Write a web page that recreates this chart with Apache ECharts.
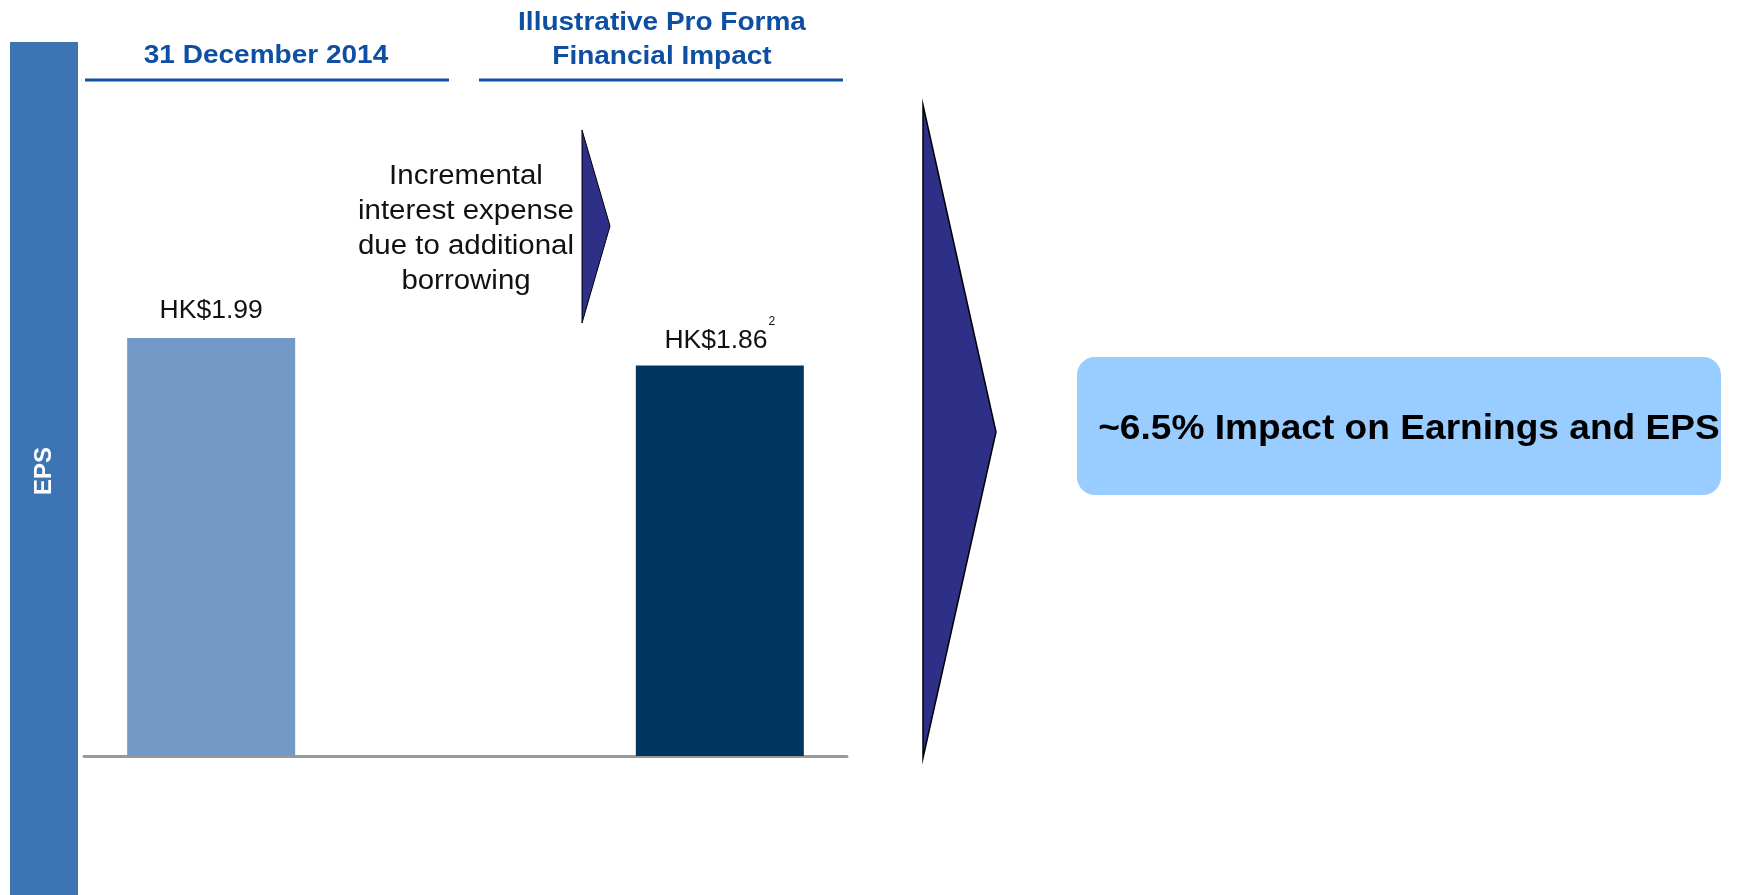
<!DOCTYPE html>
<html>
<head>
<meta charset="utf-8">
<script src="https://cdn.jsdelivr.net/npm/echarts@6/dist/echarts.min.js"></script>
<style>
  html, body { margin: 0; padding: 0; background: #fff; }
  #main { width: 1738px; height: 895px; }
</style>
</head>
<body>
<div id="main"></div>
<script>
// data
var categories = ['31 December 2014', 'Incremental interest', 'Illustrative Pro Forma'];
var epsValues = [1.99, null, 1.86];
var epsLabels = ['HK$1.99', '', 'HK$1.86'];
var footnotes = ['', '', '2'];
var barColors = ['#7399C6', '#FFFFFF', '#00365F'];
var headers = ['31 December 2014', 'Illustrative Pro Forma\nFinancial Impact'];
var note = 'Incremental\ninterest expense\ndue to additional\nborrowing';
var impactText = '~6.5% Impact on Earnings and EPS';

var font = '"Liberation Sans", Arial, sans-serif';
var headBlue = '#0E4FA3';

var myChart = echarts.init(document.getElementById('main'));

myChart.setOption({
  animation: false,
  grid: { left: 84, right: 891, top: 126, bottom: 139 },
  xAxis: {
    type: 'category',
    data: categories,
    axisLine: { lineStyle: { color: '#999999', width: 3 } },
    axisTick: { show: false },
    axisLabel: { show: false }
  },
  yAxis: {
    type: 'value',
    min: 0,
    max: 3,
    show: false,
    splitLine: { show: false }
  },
  series: [{
    type: 'bar',
    barWidth: 168,
    data: epsValues.map(function (v, i) {
      var item = { value: v, itemStyle: { color: barColors[i] } };
      // footnote marker makes the label taller, so pull it back down
      if (footnotes[i]) item.label = { distance: 0 };
      return item;
    }),
    label: {
      show: true,
      position: 'top',
      distance: 14,
      formatter: function (p) {
        var i = p.dataIndex;
        return '{v|' + epsLabels[i] + '}' + (footnotes[i] ? '{s|' + footnotes[i] + '}' : '');
      },
      rich: {
        v: { fontFamily: font, fontSize: 26.5, color: '#111' },
        s: { fontFamily: font, fontSize: 12, color: '#111', padding: [0, 0, 38, 1] }
      }
    }
  }],
  graphic: [
    // EPS side band
    { type: 'rect', shape: { x: 10, y: 42, width: 68, height: 853 }, style: { fill: '#3D74B3' } },
    { type: 'text', x: 44, y: 471, rotation: Math.PI / 2,
      style: { text: 'EPS', fill: '#fff', font: 'bold 24px ' + font, align: 'center', verticalAlign: 'middle' } },
    // headers
    { type: 'text', x: 266, y: 56, scaleX: 1.12,
      style: { text: headers[0], fill: headBlue, font: 'bold 25px ' + font, align: 'center', verticalAlign: 'middle' } },
    { type: 'text', x: 662, y: 40, scaleX: 1.12,
      style: { text: headers[1], fill: headBlue, font: 'bold 25px ' + font, align: 'center', verticalAlign: 'middle', lineHeight: 34 } },
    { type: 'line', shape: { x1: 85, y1: 80, x2: 449, y2: 80 }, style: { stroke: headBlue, lineWidth: 3 } },
    { type: 'line', shape: { x1: 479, y1: 80, x2: 843, y2: 80 }, style: { stroke: headBlue, lineWidth: 3 } },
    // annotation
    { type: 'text', x: 466, y: 229, scaleX: 1.09,
      style: { text: note, fill: '#111', font: '27px ' + font, align: 'center', verticalAlign: 'middle', lineHeight: 35 } },
    { type: 'polygon', shape: { points: [[582, 130], [610, 226], [582, 323]] },
      style: { fill: '#2E2F87', stroke: '#000', lineWidth: 1 } },
    // big arrow
    { type: 'polygon', shape: { points: [[923, 105], [996, 432], [923, 758]] },
      style: { fill: '#2E2F87', stroke: '#000', lineWidth: 1.5 } },
    // impact box
    { type: 'rect', shape: { x: 1077, y: 357, width: 644, height: 138, r: 18 }, style: { fill: '#99CCFF' } },
    { type: 'text', x: 1409, y: 429, scaleX: 1.06,
      style: { text: impactText, fill: '#000', font: 'bold 35px ' + font, align: 'center', verticalAlign: 'middle' } }
  ]
});
</script>
</body>
</html>
